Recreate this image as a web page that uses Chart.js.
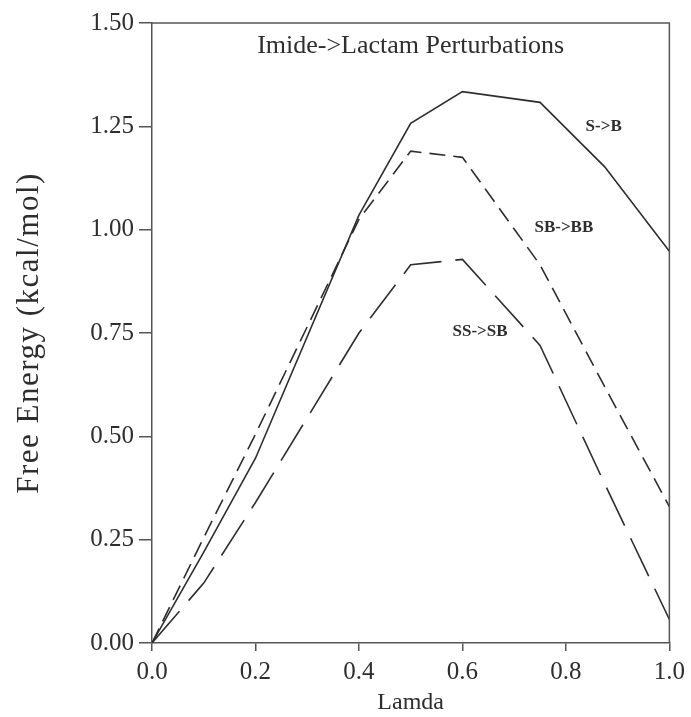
<!DOCTYPE html>
<html>
<head>
<meta charset="utf-8">
<script src="https://cdn.jsdelivr.net/npm/chart.js@4.4.0/dist/chart.umd.min.js"></script>
<style>
  html, body { margin: 0; padding: 0; background: #ffffff; }
  #wrap { width: 691px; height: 717px; }
</style>
</head>
<body>
<div id="wrap"><canvas id="c" width="691" height="717"></canvas></div>
<script>
// ---- data ----
const lambdaVals = [0, 0.1, 0.2, 0.4, 0.5, 0.6, 0.75, 0.875, 1.0];
const sToB   = [0, 0.22, 0.447, 1.035, 1.257, 1.334, 1.308, 1.152, 0.948];
const sbToBb = [0, 0.255, 0.505, 1.025, 1.19, 1.175, 0.915, 0.62, 0.33];
const ssToSb = [0, 0.145, 0.34, 0.75, 0.915, 0.928, 0.72, 0.385, 0.057];
const seriesNames = ['S->B', 'SB->BB', 'SS->SB'];
const xTicks = [0, 0.2, 0.4, 0.6, 0.8, 1.0];
const yTicks = [0, 0.25, 0.5, 0.75, 1.0, 1.25, 1.5];
const chartTitle = 'Imide->Lactam Perturbations';
const xTitle = 'Lamda';
const yTitle = 'Free Energy (kcal/mol)';

// label anchors (data coordinates) for in-plot series labels
const labelAnchors = [
  { text: seriesNames[0], x: 0.873, y: 1.2485 },
  { text: seriesNames[1], x: 0.796, y: 1.004 },
  { text: seriesNames[2], x: 0.634, y: 0.7525 }
];

const toPts = arr => lambdaVals.map((x, i) => ({ x: x, y: arr[i] }));

const ink = '#2e2e2e';
const axisInk = '#555555';
const serif = '"Liberation Serif", "Times New Roman", serif';

const framePlugin = {
  id: 'frame',
  afterDatasetsDraw(chart) {
    const { ctx, chartArea: a, scales } = chart;
    ctx.save();
    ctx.strokeStyle = axisInk;
    ctx.lineWidth = 1.5;
    ctx.beginPath();
    ctx.moveTo(a.left, a.top);
    ctx.lineTo(a.right, a.top);
    ctx.lineTo(a.right, a.bottom);
    ctx.stroke();
    // title inside plot
    ctx.fillStyle = ink;
    ctx.font = '26px ' + serif;
    ctx.textAlign = 'center';
    ctx.textBaseline = 'alphabetic';
    ctx.fillText(chartTitle, (a.left + a.right) / 2, a.top + 30);
    // series labels
    ctx.font = 'bold 17px ' + serif;
    ctx.textBaseline = 'middle';
    labelAnchors.forEach(l => {
      ctx.fillText(l.text, scales.x.getPixelForValue(l.x), scales.y.getPixelForValue(l.y));
    });
    // y axis title
    ctx.save();
    ctx.translate(30, (a.top + a.bottom) / 2);
    ctx.rotate(-Math.PI / 2);
    ctx.font = '31px ' + serif;
    ctx.letterSpacing = '1.5px';
    ctx.textAlign = 'center';
    ctx.textBaseline = 'middle';
    ctx.fillText(yTitle, 0, 0);
    ctx.restore();
    ctx.restore();
  }
};

new Chart(document.getElementById('c'), {
  type: 'line',
  data: {
    datasets: [
      { label: seriesNames[0], data: toPts(sToB), borderColor: ink, borderWidth: 1.6, borderDash: [], pointRadius: 0, tension: 0, fill: false },
      { label: seriesNames[1], data: toPts(sbToBb), borderColor: ink, borderWidth: 1.6, borderDash: [16, 8], pointRadius: 0, tension: 0, fill: false },
      { label: seriesNames[2], data: toPts(ssToSb), borderColor: ink, borderWidth: 1.6, borderDash: [42, 14], pointRadius: 0, tension: 0, fill: false }
    ]
  },
  options: {
    responsive: false,
    animation: false,
    devicePixelRatio: 1,
    layout: { padding: { top: 23, right: 20, left: 0, bottom: 0 } },
    plugins: {
      legend: { display: false },
      title: { display: false },
      tooltip: { enabled: false }
    },
    scales: {
      x: {
        type: 'linear',
        min: 0, max: 1,
        afterFit(s) { s.height = 74; },
        afterBuildTicks(s) { s.ticks = xTicks.map(v => ({ value: v })); },
        ticks: {
          color: ink,
          font: { family: serif, size: 25 },
          padding: 6,
          maxRotation: 0,
          callback: v => Number(v).toFixed(1)
        },
        grid: { display: true, drawOnChartArea: false, drawTicks: true, tickLength: 8, color: axisInk, lineWidth: 1.5 },
        border: { display: true, color: axisInk, width: 1.5 },
        title: { display: true, text: xTitle, color: ink, font: { family: serif, size: 24 }, padding: { top: 1, bottom: 0 } }
      },
      y: {
        type: 'linear',
        min: 0, max: 1.5,
        afterFit(s) { s.width = 152; },
        afterBuildTicks(s) { s.ticks = yTicks.map(v => ({ value: v })); },
        ticks: {
          color: ink,
          font: { family: serif, size: 25 },
          padding: 5,
          callback: v => Number(v).toFixed(2)
        },
        grid: { display: true, drawOnChartArea: false, drawTicks: true, tickLength: 13, color: axisInk, lineWidth: 1.5 },
        border: { display: true, color: axisInk, width: 1.5 },
        title: { display: false, text: yTitle }
      }
    }
  },
  plugins: [framePlugin]
});
</script>
</body>
</html>
